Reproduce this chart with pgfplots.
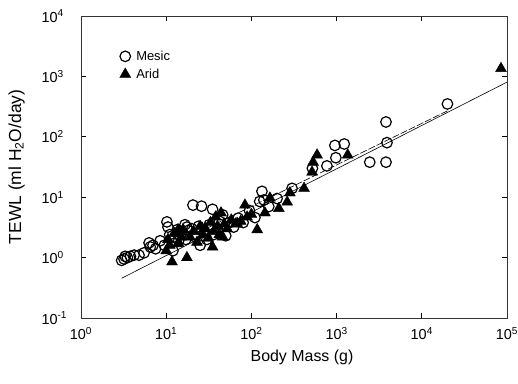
\documentclass[border=0pt]{standalone}
\usepackage{pgfplots}
\pgfplotsset{compat=1.18}
\usepackage{fontspec}
\setmainfont{Liberation Sans}
\pgfplotstableread{
x y
3.0 0.90
3.2 0.95
3.3 1.05
3.5 1.0
3.8 1.05
4.2 1.1
4.8 1.1
5.5 1.2
6.3 1.75
6.5 1.5
7.0 1.6
7.5 1.4
8.5 1.9
9.5 1.6
10.2 3.9
10.5 3.2
11 2.4
11.5 1.9
12 1.3
12.5 2.2
13.5 2.9
14 1.9
15 2.5
16.6 3.5
17 2.0
17.5 3.2
18 2.8
20 3.0
20.6 7.4
22 2.2
24 3.3
25 1.6
26 7.1
28 2.6
30 2.0
32 3.5
35 6.3
36 2.4
40 3.0
42 4.0
46 5.1
50 2.3
55 3.8
62 3.2
70 4.5
80 3.8
95 6.0
110 4.6
125 8.5
133 12.5
140 9.0
160 7.0
200 9.5
300 14
520 30
770 33
955 72
980 45
1230 76
2450 38
3800 176
3900 80
3800 38
20000 350
}\mesic
\pgfplotstableread{
x y
10 1.3
10.5 2.0
11 1.6
11.7 0.85
12.5 2.5
13.8 2.9
14 1.7
15 2.2
16 2.8
17.5 1.0
19 2.2
21 2.7
23 1.8
25 3.3
27 2.4
29 3.0
31 2.1
33 3.8
35 1.5
36 2.7
38 4.7
40 3.3
42 2.4
44 5.5
46 2.2
48 3.6
52 3.0
58 4.2
65 3.6
68 3.7
75 4.0
84 7.4
89 4.7
100 5.2
117 2.9
144 5.5
165 9.7
210 6.5
263 8.3
283 11.8
415 14
515 26
530 38
590 50
1350 50
85000 1350
}\arid
\pgfplotstableread{
x y
3 0.455
100000 804
}\fitall
\pgfplotstableread{
x y
10 1.44
21000 278
}\fitmesic
\begin{document}
\begin{tikzpicture}
\begin{axis}[
  xmode=log, ymode=log,
  scale only axis, width=426bp, height=302bp,
  xmin=1, xmax=1e5, ymin=0.1, ymax=1e4,
  xtick={1,10,100,1000,10000,100000},
  xticklabels={10\textsuperscript{0},10\textsuperscript{1},10\textsuperscript{2},10\textsuperscript{3},10\textsuperscript{4},10\textsuperscript{5}},
  ytick={0.1,1,10,100,1000,10000},
  yticklabels={10\textsuperscript{-1},10\textsuperscript{0},10\textsuperscript{1},10\textsuperscript{2},10\textsuperscript{3},10\textsuperscript{4}},
  xminorticks=false, yminorticks=false,
  tick align=inside, major tick length=5bp,
  tick style={black, line width=0.7bp},
  ticklabel style={font=\fontsize{14.5}{17}\selectfont},
  xticklabel style={yshift=-6bp},
  yticklabel style={anchor=west, xshift=-43bp},
  xlabel={Body Mass (g)}, ylabel={TEWL (ml H\textsubscript{2}O/day)},
  xlabel style={font=\fontsize{16}{18}\selectfont, xshift=8bp, yshift=-3bp},
  ylabel style={font=\fontsize{17.5}{20}\selectfont, yshift=10bp},
  axis line style={line width=0.9bp, black!80},
  legend style={at={(0.087,0.895)}, anchor=north west, draw=none, fill=none,
    font=\fontsize{13}{15}\selectfont, row sep=3bp, inner sep=1bp},
  legend cell align=left,
  legend image code/.code={\path[draw=none,fill=none] (-6bp,0bp) (9bp,0bp);
    \draw[mark repeat=1,#1] plot coordinates {(0bp,0bp)};},
]
\addplot[forget plot, black, line width=0.6bp] table {\fitall};
\addplot[forget plot, black, line width=0.6bp, dash pattern=on 7bp off 2bp] table {\fitmesic};
\addplot[only marks, mark=o, mark size=5.3bp, mark options={black, line width=1.2bp, fill=white}] table {\mesic};
\addplot[only marks, mark=triangle*, mark size=6.3bp, mark options={black, fill=black}] table {\arid};
\legend{Mesic, Arid}
\end{axis}
\pgfresetboundingbox
\useasboundingbox ([shift={(-81bp,-66bp)}]current axis.south west) rectangle ([shift={(11bp,16bp)}]current axis.north east);
\end{tikzpicture}
\end{document}
